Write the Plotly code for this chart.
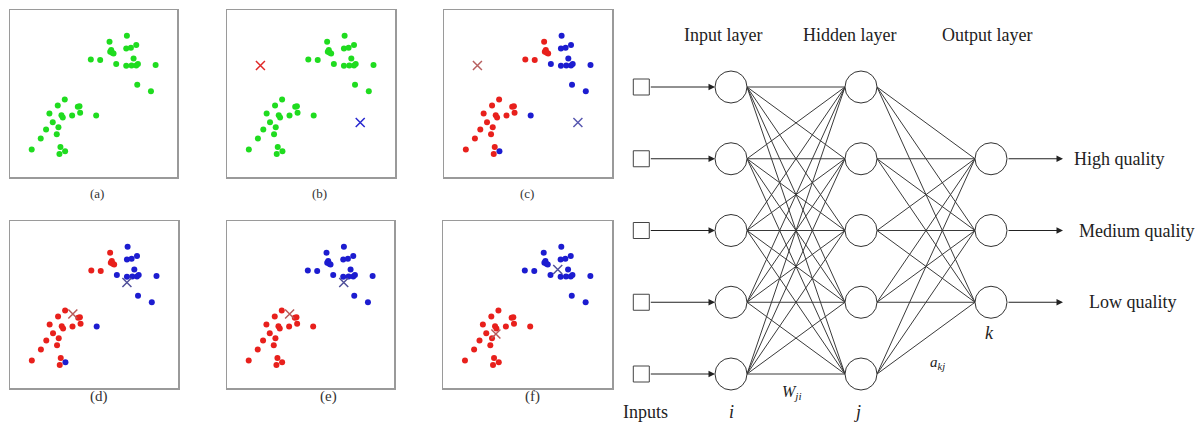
import plotly.graph_objects as go

# ---------------- data: k-means panels ----------------
pts_x = [59.6, 60.6, 60.0, 61.2, 62.0, 48.4, 54.0,
         70.0, 69.6, 72.4, 75.6, 63.6, 74.0, 69.6, 72.8, 75.6, 76.6, 87.2, 76.2, 84.4,
         51.6, 33.0,
         32.8, 28.6, 40.6, 41.6, 23.6, 42.0, 30.8, 31.6, 37.2, 25.6, 29.0, 21.6, 28.0,
         18.4, 13.0, 30.2, 29.6]
pts_y = [81.0, 76.0, 75.0, 74.4, 74.0, 70.4, 70.0,
         84.6, 77.0, 77.4, 79.0, 67.6, 71.0, 66.6, 66.8, 66.8, 67.6, 67.0, 55.2, 51.4,
         36.8, 15.4,
         46.4, 42.8, 42.0, 42.4, 38.0, 38.4, 37.0, 35.6, 36.8, 32.8, 29.8, 28.4, 25.6,
         23.0, 16.4, 18.0, 13.8]
# cluster assignment after first step (panels c, d) and final (e, f)
assign_first = ["r"] * 7 + ["b"] * 13 + ["b"] * 2 + ["r"] * 17
assign_final = ["b"] * 20 + ["r"] * 19

panel_labels = ["(a)", "(b)", "(c)", "(d)", "(e)", "(f)"]
panel_assign = [None, None, assign_first, assign_first, assign_final, assign_final]
# centroids: (red_x, red_y, blue_x, blue_y)
centroids = [None,
             (19.9, 66.8, 79.3, 32.6),
             (19.9, 66.8, 79.7, 32.6),
             (37.4, 44.3, 69.6, 63.2),
             (37.5, 44.3, 69.9, 63.2),
             (31.3, 32.3, 67.9, 71.0)]

# ---------------- data: network ----------------
layer_names = ["Input layer", "Hidden layer", "Output layer"]
layer_nodes = [[0, 1, 2, 3, 4], [0, 1, 2, 3, 4], [1, 2, 3]]
output_names = ["High quality", "Medium quality", "Low quality"]

# ---------------- styles / layout ----------------
W, H = 1201, 422
GREEN, RED, BLUE = "#1fdc1f", "#e8201c", "#1c1cd0"
cent_cols = [None, ("#e02828", "#2828d0"), ("#b86060", "#5858b0"),
             ("#b85a5a", "#50509a"), ("#b85a5a", "#50509a"), ("#b85a5a", "#50509a")]
# panel boxes in pixels (x0, x1, y0, y1) from top-left
boxes = [(10, 177, 10, 177), (227, 395, 10, 177), (444, 612, 10, 177),
         (10, 178, 221, 388), (227, 394, 221, 388), (443, 612, 221, 388)]
label_px = [(88, 193), (310, 193), (527, 193), (88, 407), (318, 407), (532, 407)]

fig = go.Figure()
layout = dict(width=W, height=H, margin=dict(l=0, r=0, t=0, b=0),
              paper_bgcolor="white", plot_bgcolor="rgba(0,0,0,0)",
              showlegend=False)
annotations = []

for i in range(6):
    xa, ya = f"x{i+1}" if i else "x", f"y{i+1}" if i else "y"
    x0, x1, y0, y1 = boxes[i]
    ax_common = dict(range=[0, 100], showgrid=False, zeroline=False,
                     showticklabels=False, ticks="", showline=True, mirror=True,
                     linecolor="#9a9a9a", linewidth=1.5, fixedrange=True)
    layout["xaxis" + (str(i + 1) if i else "")] = dict(
        domain=[x0 / W, x1 / W], anchor=ya, **ax_common)
    layout["yaxis" + (str(i + 1) if i else "")] = dict(
        domain=[1 - y1 / H, 1 - y0 / H], anchor=xa, **ax_common)
    asg = panel_assign[i]
    if asg is None:
        cols = [GREEN] * len(pts_x)
    else:
        cols = [RED if a == "r" else BLUE for a in asg]
    fig.add_trace(go.Scatter(x=pts_x, y=pts_y, mode="markers", xaxis=xa, yaxis=ya,
                             marker=dict(size=6, color=cols, line=dict(width=0)),
                             hoverinfo="skip"))
    c = centroids[i]
    if c is not None:
        fig.add_trace(go.Scatter(x=[c[0], c[2]], y=[c[1], c[3]], mode="markers",
                                 xaxis=xa, yaxis=ya,
                                 marker=dict(symbol="x-thin", size=9,
                                             line=dict(width=1.5,
                                                       color=list(cent_cols[i]))),
                                 hoverinfo="skip"))
    lx, ly = label_px[i]
    annotations.append(dict(x=lx / W, y=1 - ly / H, xref="paper", yref="paper",
                            text=panel_labels[i], showarrow=False,
                            font=dict(family="Liberation Serif", size=13 if i < 3 else 15,
                                      color="#333")))

# network axis: layer index on x, node index on y (pixel-scaled so circles are round)
px_per_layer, px_per_node = 130.0, 71.75
x_origin_px, y_origin_px = 731.0, 87.0
layout["xaxis7"] = dict(domain=[0, 1], anchor="y7",
                        range=[-x_origin_px / px_per_layer, (W - x_origin_px) / px_per_layer],
                        visible=False, fixedrange=True)
layout["yaxis7"] = dict(domain=[0, 1], anchor="x7",
                        range=[(H - y_origin_px) / px_per_node, -y_origin_px / px_per_node],
                        visible=False, fixedrange=True)

node_r = 16 / px_per_layer
ex, ey = [], []
for li in range(len(layer_nodes) - 1):
    for a in layer_nodes[li]:
        for b in layer_nodes[li + 1]:
            ex += [li + node_r, li + 1 - node_r, None]
            ey += [a, b, None]
fig.add_trace(go.Scatter(x=ex, y=ey, mode="lines", xaxis="x7", yaxis="y7",
                         line=dict(color="#3a3a3a", width=1), hoverinfo="skip"))

nx, ny = [], []
for li, nodes in enumerate(layer_nodes):
    nx += [li] * len(nodes)
    ny += nodes
fig.add_trace(go.Scatter(x=nx, y=ny, mode="markers", xaxis="x7", yaxis="y7",
                         marker=dict(size=32, color="white",
                                     line=dict(color="#333", width=1)),
                         hoverinfo="skip"))

square_x = -0.69
fig.add_trace(go.Scatter(x=[square_x] * len(layer_nodes[0]), y=layer_nodes[0],
                         mode="markers", xaxis="x7", yaxis="y7",
                         marker=dict(symbol="square", size=16, color="white",
                                     line=dict(color="#444", width=1)),
                         hoverinfo="skip"))

serif = "Liberation Serif"
for n in layer_nodes[0]:
    annotations.append(dict(x=0, y=n, ax=square_x, ay=n, xref="x7", yref="y7",
                            axref="x7", ayref="y7", text="", showarrow=True,
                            arrowhead=2, arrowsize=1.3, arrowwidth=1,
                            arrowcolor="#222", standoff=16, startstandoff=8))
out_tip = 2.554
label_x = [2.985, 3.12, 3.09]
for k, n in enumerate(layer_nodes[2]):
    annotations.append(dict(x=out_tip, y=n, ax=2, ay=n, xref="x7", yref="y7",
                            axref="x7", ayref="y7", text="", showarrow=True,
                            arrowhead=2, arrowsize=1.3, arrowwidth=1,
                            arrowcolor="#222", standoff=0, startstandoff=16))
    annotations.append(dict(x=label_x[k], y=n, xref="x7", yref="y7",
                            text=output_names[k], showarrow=False,
                            font=dict(family=serif, size=18, color="#222")))

head_x = [-0.06, 0.915, 1.97]
for li, name in enumerate(layer_names):
    annotations.append(dict(x=head_x[li], y=-0.725, xref="x7", yref="y7",
                            text=name, showarrow=False,
                            font=dict(family=serif, size=18, color="#222")))

small_labels = [("Inputs", -0.66, 4.53, 18),
                ("<i>i</i>", 0.0, 4.53, 18),
                ("<i>j</i>", 0.97, 4.53, 18),
                ("<i>k</i>", 1.99, 3.43, 18),
                ("<i>W</i><sub><i>ji</i></sub>", 0.47, 4.26, 16),
                ("<i>a</i><sub><i>kj</i></sub>", 1.59, 3.85, 15)]
for txt, x, y, s in small_labels:
    annotations.append(dict(x=x, y=y, xref="x7", yref="y7", text=txt,
                            showarrow=False,
                            font=dict(family=serif, size=s, color="#222")))

layout["annotations"] = annotations
fig.update_layout(**layout)
fig.write_html("out.html",
               config={"displayModeBar": False, "staticPlot": True},
               post_script="document.body.style.margin='0';"
                           "document.body.style.overflow='hidden';")
